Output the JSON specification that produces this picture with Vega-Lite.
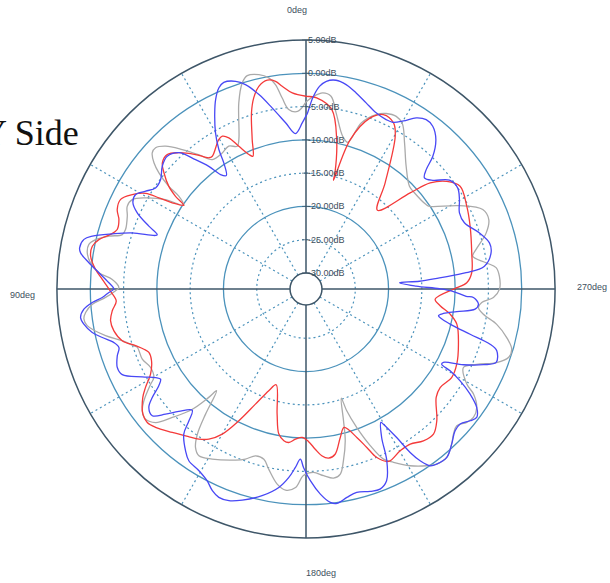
{
"$schema":"https://vega.github.io/schema/vega-lite/v6.json",
"width":498,"height":498,
"autosize":{"type":"none"},
"padding":{"left":57,"top":40,"right":55,"bottom":45},
"background":"white",
"title":{"text":"Y Side","anchor":"start","frame":"group","orient":"top","font":"Liberation Serif","fontSize":36,"fontWeight":"normal","color":"#111111","baseline":"alphabetic","offset":0,"dx":-76,"dy":175},
"config":{"view":{"stroke":null}},
"datasets":{
"curves":[
{"s":"grey","a":0,"d":-4.3},{"s":"grey","a":2.7,"d":-5.7},{"s":"grey","a":5.5,"d":-5.3},{"s":"grey","a":7.1,"d":-3.5},{"s":"grey","a":8.5,"d":-1.35},{"s":"grey","a":10,"d":-0.2},{"s":"grey","a":12.4,"d":0.57},{"s":"grey","a":15.4,"d":0.84},{"s":"grey","a":17.2,"d":0},{"s":"grey","a":19.85,"d":-2.67},{"s":"grey","a":24.2,"d":-7.8},{"s":"grey","a":25.7,"d":-8.6},{"s":"grey","a":28.4,"d":-8.0},{"s":"grey","a":31.6,"d":-8.4},{"s":"grey","a":35.9,"d":-8.4},{"s":"grey","a":38.6,"d":-6.6},{"s":"grey","a":41.6,"d":-4.4},{"s":"grey","a":44.5,"d":-2.33},{"s":"grey","a":46.8,"d":-1.41},{"s":"grey","a":48.5,"d":-1.56},{"s":"grey","a":50.3,"d":-2.72},{"s":"grey","a":51.7,"d":-4.25},{"s":"grey","a":53.2,"d":-6.67},{"s":"grey","a":53.9,"d":-8.75},{"s":"grey","a":55.6,"d":-10.15},{"s":"grey","a":57.5,"d":-7.4},{"s":"grey","a":60.4,"d":-4.7},{"s":"grey","a":62.8,"d":-3.05},{"s":"grey","a":65.2,"d":-2.82},{"s":"grey","a":67.8,"d":-3.41},{"s":"grey","a":71.75,"d":-3.86},{"s":"grey","a":73.5,"d":-3.62},{"s":"grey","a":75,"d":-1.76},{"s":"grey","a":76.8,"d":0.06},{"s":"grey","a":78.4,"d":0.89},{"s":"grey","a":80.6,"d":0.9},{"s":"grey","a":83.1,"d":0.2},{"s":"grey","a":85.5,"d":-1.2},{"s":"grey","a":87.2,"d":-3.27},{"s":"grey","a":89.6,"d":-4.29},{"s":"grey","a":90.5,"d":-3.8},{"s":"grey","a":92.4,"d":-2.27},{"s":"grey","a":94.1,"d":-0.23},{"s":"grey","a":96.1,"d":0.89},{"s":"grey","a":97.7,"d":1.26},{"s":"grey","a":99.5,"d":0.92},{"s":"grey","a":103.1,"d":-1.49},{"s":"grey","a":105.7,"d":-3.72},{"s":"grey","a":108.3,"d":-5.18},{"s":"grey","a":109.1,"d":-5.59},{"s":"grey","a":113.2,"d":-5.65},{"s":"grey","a":116.8,"d":-6.25},{"s":"grey","a":120.2,"d":-5.96},{"s":"grey","a":121.5,"d":-5.03},{"s":"grey","a":124.6,"d":-2.82},{"s":"grey","a":126.6,"d":-1.76},{"s":"grey","a":129.05,"d":-1.37},{"s":"grey","a":131.6,"d":-2.19},{"s":"grey","a":133.85,"d":-4.55},{"s":"grey","a":136.6,"d":-7.55},{"s":"grey","a":138.1,"d":-10.53},{"s":"grey","a":138.7,"d":-12.06},{"s":"grey","a":141.25,"d":-8.3},{"s":"grey","a":143.2,"d":-5.17},{"s":"grey","a":145.1,"d":-3.39},{"s":"grey","a":147.3,"d":-2.63},{"s":"grey","a":151.1,"d":-3.23},{"s":"grey","a":157.6,"d":-4.61},{"s":"grey","a":160.4,"d":-5.29},{"s":"grey","a":163.2,"d":-6.23},{"s":"grey","a":166.1,"d":-6.07},{"s":"grey","a":168.3,"d":-4.77},{"s":"grey","a":171.6,"d":-2.78},{"s":"grey","a":174.2,"d":-2.04},{"s":"grey","a":177,"d":-2.55},{"s":"grey","a":179.2,"d":-4.4},{"s":"grey","a":182.3,"d":-4.82},{"s":"grey","a":185.4,"d":-4.23},{"s":"grey","a":188.3,"d":-3.69},{"s":"grey","a":190.5,"d":-4.13},{"s":"grey","a":192.3,"d":-6.01},{"s":"grey","a":194.5,"d":-8.86},{"s":"grey","a":195.9,"d":-11.83},{"s":"grey","a":197.9,"d":-15.18},{"s":"grey","a":198.5,"d":-13.11},{"s":"grey","a":200.1,"d":-10.26},{"s":"grey","a":202.3,"d":-6.97},{"s":"grey","a":204.5,"d":-4.32},{"s":"grey","a":206.8,"d":-3.23},{"s":"grey","a":210.5,"d":-1.59},{"s":"grey","a":214.3,"d":-0.26},{"s":"grey","a":216.75,"d":0.42},{"s":"grey","a":219.9,"d":0.57},{"s":"grey","a":223.2,"d":-0.44},{"s":"grey","a":225.45,"d":-1.32},{"s":"grey","a":227.8,"d":-1.83},{"s":"grey","a":230.3,"d":-1.02},{"s":"grey","a":232.5,"d":-0.7},{"s":"grey","a":235.25,"d":-1.19},{"s":"grey","a":237.9,"d":-2.7},{"s":"grey","a":239.4,"d":-4.34},{"s":"grey","a":243.5,"d":-5.98},{"s":"grey","a":246.2,"d":-4.38},{"s":"grey","a":248.9,"d":-1.7},{"s":"grey","a":251.3,"d":-0.3},{"s":"grey","a":253.7,"d":-0.21},{"s":"grey","a":256.4,"d":-1.38},{"s":"grey","a":259.5,"d":-3.27},{"s":"grey","a":261.9,"d":-5.48},{"s":"grey","a":263.9,"d":-6.35},{"s":"grey","a":265.6,"d":-5.93},{"s":"grey","a":267.4,"d":-4.22},{"s":"grey","a":269.9,"d":-3.35},{"s":"grey","a":273.8,"d":-3.29},{"s":"grey","a":276.4,"d":-3.67},{"s":"grey","a":278.3,"d":-5.06},{"s":"grey","a":281.1,"d":-6.88},{"s":"grey","a":283.1,"d":-6.17},{"s":"grey","a":287.3,"d":-4.05},{"s":"grey","a":290.8,"d":-3.03},{"s":"grey","a":294.2,"d":-3.29},{"s":"grey","a":298.5,"d":-6.17},{"s":"grey","a":303.8,"d":-10.08},{"s":"grey","a":305.1,"d":-10.35},{"s":"grey","a":311.6,"d":-10.63},{"s":"grey","a":314.8,"d":-10.5},{"s":"grey","a":320.8,"d":-8.6},{"s":"grey","a":326,"d":-5.93},{"s":"grey","a":329.8,"d":-3.65},{"s":"grey","a":332.4,"d":-3.14},{"s":"grey","a":335.45,"d":-3.42},{"s":"grey","a":338.1,"d":-4.16},{"s":"grey","a":341.6,"d":-6.11},{"s":"grey","a":344.1,"d":-9.49},{"s":"grey","a":346.5,"d":-8.8},{"s":"grey","a":350.3,"d":-5.56},{"s":"grey","a":352.6,"d":-3.21},{"s":"grey","a":355.1,"d":-2.84},{"s":"grey","a":358,"d":-3.53},{"s":"grey","a":360,"d":-4.3},
{"s":"red","a":0,"d":-3.45},{"s":"red","a":4,"d":-2.87},{"s":"red","a":6.7,"d":-1.74},{"s":"red","a":8.35,"d":-0.87},{"s":"red","a":10.5,"d":-0.51},{"s":"red","a":13.1,"d":-1.14},{"s":"red","a":15.3,"d":-2.64},{"s":"red","a":17.2,"d":-4.71},{"s":"red","a":19.8,"d":-8.54},{"s":"red","a":21.8,"d":-10.92},{"s":"red","a":23,"d":-10.45},{"s":"red","a":25.2,"d":-8.71},{"s":"red","a":27.05,"d":-6.91},{"s":"red","a":28.7,"d":-6.23},{"s":"red","a":30.3,"d":-6.41},{"s":"red","a":35.2,"d":-7.99},{"s":"red","a":36.5,"d":-7.88},{"s":"red","a":39.4,"d":-6.26},{"s":"red","a":43,"d":-4.41},{"s":"red","a":45.9,"d":-3.38},{"s":"red","a":48.7,"d":-3.68},{"s":"red","a":50.7,"d":-4.83},{"s":"red","a":53.2,"d":-6.67},{"s":"red","a":54.6,"d":-8.36},{"s":"red","a":55.6,"d":-10.15},{"s":"red","a":57.2,"d":-8.5},{"s":"red","a":58.2,"d":-6.4},{"s":"red","a":59.2,"d":-4.35},{"s":"red","a":61.5,"d":-2.7},{"s":"red","a":64.2,"d":-1.47},{"s":"red","a":67.2,"d":-1.64},{"s":"red","a":69.6,"d":-2.42},{"s":"red","a":72.5,"d":-2.67},{"s":"red","a":74.4,"d":-1.92},{"s":"red","a":76.6,"d":-0.42},{"s":"red","a":78.7,"d":0.33},{"s":"red","a":81.3,"d":0.33},{"s":"red","a":84.7,"d":-0.66},{"s":"red","a":87.3,"d":-1.77},{"s":"red","a":90.7,"d":-3.05},{"s":"red","a":93.6,"d":-3.84},{"s":"red","a":96.4,"d":-3.12},{"s":"red","a":99.2,"d":-2.66},{"s":"red","a":102.3,"d":-2.87},{"s":"red","a":105.7,"d":-3.72},{"s":"red","a":108.4,"d":-5.42},{"s":"red","a":110.4,"d":-6.43},{"s":"red","a":112,"d":-6.95},{"s":"red","a":114.9,"d":-6.82},{"s":"red","a":118.7,"d":-5.78},{"s":"red","a":121.5,"d":-4.13},{"s":"red","a":123.6,"d":-2.97},{"s":"red","a":127.5,"d":-1.52},{"s":"red","a":130.05,"d":-1.25},{"s":"red","a":132.6,"d":-1.7},{"s":"red","a":137,"d":-2.94},{"s":"red","a":141.6,"d":-4.08},{"s":"red","a":144.5,"d":-4.7},{"s":"red","a":147.1,"d":-5.54},{"s":"red","a":150,"d":-7.24},{"s":"red","a":153,"d":-10.2},{"s":"red","a":156.3,"d":-13.51},{"s":"red","a":159.9,"d":-16.13},{"s":"red","a":162.7,"d":-17.34},{"s":"red","a":167,"d":-13.11},{"s":"red","a":169.4,"d":-10.23},{"s":"red","a":171.7,"d":-9.37},{"s":"red","a":173.6,"d":-9.2},{"s":"red","a":176,"d":-9.79},{"s":"red","a":178.5,"d":-10.11},{"s":"red","a":180.9,"d":-9.5},{"s":"red","a":183.3,"d":-8.3},{"s":"red","a":185.4,"d":-7.25},{"s":"red","a":187.6,"d":-6.77},{"s":"red","a":190,"d":-7.2},{"s":"red","a":193,"d":-9.52},{"s":"red","a":195.4,"d":-10.83},{"s":"red","a":198.9,"d":-8.84},{"s":"red","a":201,"d":-6.91},{"s":"red","a":202.8,"d":-4.95},{"s":"red","a":205.6,"d":-3.69},{"s":"red","a":210.2,"d":-4.29},{"s":"red","a":213.9,"d":-4.33},{"s":"red","a":217.7,"d":-3.57},{"s":"red","a":221.3,"d":-3.39},{"s":"red","a":224.8,"d":-4.52},{"s":"red","a":230.2,"d":-6.95},{"s":"red","a":233.7,"d":-7.4},{"s":"red","a":238.7,"d":-6.8},{"s":"red","a":243.5,"d":-7.1},{"s":"red","a":250.1,"d":-8.05},{"s":"red","a":256.9,"d":-9.14},{"s":"red","a":260.1,"d":-10.42},{"s":"red","a":262.9,"d":-12.1},{"s":"red","a":265.5,"d":-12.94},{"s":"red","a":269.9,"d":-10.26},{"s":"red","a":270.5,"d":-9.76},{"s":"red","a":272.2,"d":-8.24},{"s":"red","a":275.6,"d":-7.39},{"s":"red","a":282.3,"d":-6.92},{"s":"red","a":290.9,"d":-6.01},{"s":"red","a":297.2,"d":-5.24},{"s":"red","a":303.7,"d":-4.58},{"s":"red","a":307.4,"d":-5.78},{"s":"red","a":310.5,"d":-7.87},{"s":"red","a":312.7,"d":-11.11},{"s":"red","a":317.8,"d":-16.43},{"s":"red","a":323.3,"d":-12.51},{"s":"red","a":329.7,"d":-5.84},{"s":"red","a":332.2,"d":-4.2},{"s":"red","a":336.1,"d":-3.74},{"s":"red","a":339.4,"d":-4.95},{"s":"red","a":343.5,"d":-9.0},{"s":"red","a":345.8,"d":-15.56},{"s":"red","a":346,"d":-14.41},{"s":"red","a":348.4,"d":-9.49},{"s":"red","a":351.8,"d":-5.18},{"s":"red","a":356.8,"d":-3.65},{"s":"red","a":360,"d":-3.45},
{"s":"blue","a":0,"d":-6.4},{"s":"blue","a":1.3,"d":-7.45},{"s":"blue","a":3.9,"d":-9.0},{"s":"blue","a":7,"d":-7.25},{"s":"blue","a":10.6,"d":-4.73},{"s":"blue","a":13.6,"d":-2.36},{"s":"blue","a":16.5,"d":-0.38},{"s":"blue","a":18.7,"d":0.54},{"s":"blue","a":21.7,"d":1.0},{"s":"blue","a":23.4,"d":0.53},{"s":"blue","a":25.5,"d":-0.87},{"s":"blue","a":27.4,"d":-2.61},{"s":"blue","a":30.1,"d":-5.3},{"s":"blue","a":32,"d":-7.7},{"s":"blue","a":33.1,"d":-9.79},{"s":"blue","a":35.1,"d":-11.58},{"s":"blue","a":36.75,"d":-10.95},{"s":"blue","a":38.4,"d":-8.89},{"s":"blue","a":40.5,"d":-6.85},{"s":"blue","a":43,"d":-4.41},{"s":"blue","a":46.3,"d":-3.56},{"s":"blue","a":49.5,"d":-4.01},{"s":"blue","a":53,"d":-5.06},{"s":"blue","a":56.1,"d":-5.17},{"s":"blue","a":58.6,"d":-4.19},{"s":"blue","a":61,"d":-3.14},{"s":"blue","a":63.5,"d":-3.35},{"s":"blue","a":65.7,"d":-4.59},{"s":"blue","a":68.2,"d":-6.98},{"s":"blue","a":69.9,"d":-8.6},{"s":"blue","a":70.4,"d":-8.42},{"s":"blue","a":72.1,"d":-4.97},{"s":"blue","a":74.1,"d":-2.15},{"s":"blue","a":76.1,"d":0.66},{"s":"blue","a":77.4,"d":1.77},{"s":"blue","a":79.7,"d":2.16},{"s":"blue","a":80.9,"d":1.89},{"s":"blue","a":83.1,"d":0.45},{"s":"blue","a":85.5,"d":-1.2},{"s":"blue","a":88.2,"d":-2.78},{"s":"blue","a":90,"d":-3.54},{"s":"blue","a":91,"d":-2.79},{"s":"blue","a":92.4,"d":-1.77},{"s":"blue","a":93.6,"d":-0.24},{"s":"blue","a":95.2,"d":1.1},{"s":"blue","a":97.2,"d":1.73},{"s":"blue","a":99,"d":1.38},{"s":"blue","a":101.5,"d":0.36},{"s":"blue","a":103.4,"d":-0.95},{"s":"blue","a":105.6,"d":-2.45},{"s":"blue","a":107.4,"d":-2.96},{"s":"blue","a":109.5,"d":-2.33},{"s":"blue","a":112.6,"d":-1.7},{"s":"blue","a":115,"d":-1.95},{"s":"blue","a":118.2,"d":-4.5},{"s":"blue","a":120.5,"d":-6.19},{"s":"blue","a":121.8,"d":-6.7},{"s":"blue","a":123.3,"d":-5.95},{"s":"blue","a":125.2,"d":-4.14},{"s":"blue","a":127,"d":-2.84},{"s":"blue","a":129.5,"d":-2.48},{"s":"blue","a":131.7,"d":-4.14},{"s":"blue","a":133.9,"d":-5.89},{"s":"blue","a":136.8,"d":-7.43},{"s":"blue","a":138.4,"d":-5.92},{"s":"blue","a":139.9,"d":-3.9},{"s":"blue","a":143.3,"d":-2.12},{"s":"blue","a":145.7,"d":-1.17},{"s":"blue","a":149.5,"d":-0.72},{"s":"blue","a":152.7,"d":0.0},{"s":"blue","a":155.1,"d":1.0},{"s":"blue","a":157.3,"d":1.53},{"s":"blue","a":160,"d":1.44},{"s":"blue","a":163.2,"d":0.72},{"s":"blue","a":168,"d":-0.66},{"s":"blue","a":172.2,"d":-2.31},{"s":"blue","a":174.8,"d":-3.98},{"s":"blue","a":176.6,"d":-5.56},{"s":"blue","a":178.1,"d":-6.83},{"s":"blue","a":179.2,"d":-5.6},{"s":"blue","a":181.3,"d":-3.6},{"s":"blue","a":184,"d":-1.52},{"s":"blue","a":186.5,"d":-0.14},{"s":"blue","a":188.2,"d":0.14},{"s":"blue","a":191.1,"d":-0.5},{"s":"blue","a":194,"d":-0.92},{"s":"blue","a":197.6,"d":-0.51},{"s":"blue","a":200.3,"d":-0.35},{"s":"blue","a":202.8,"d":-1.16},{"s":"blue","a":205.2,"d":-3.89},{"s":"blue","a":207,"d":-7.37},{"s":"blue","a":209.3,"d":-9.43},{"s":"blue","a":209.8,"d":-9.01},{"s":"blue","a":211.4,"d":-6.26},{"s":"blue","a":212.5,"d":-3.29},{"s":"blue","a":213.6,"d":-1.43},{"s":"blue","a":215.1,"d":0.05},{"s":"blue","a":216.7,"d":0.42},{"s":"blue","a":219.9,"d":0.57},{"s":"blue","a":223.2,"d":-0.44},{"s":"blue","a":226.45,"d":-1.5},{"s":"blue","a":228.8,"d":-1.61},{"s":"blue","a":231.25,"d":-0.78},{"s":"blue","a":233.05,"d":-0.32},{"s":"blue","a":235.25,"d":-1.19},{"s":"blue","a":237.35,"d":-3.12},{"s":"blue","a":239.2,"d":-5.45},{"s":"blue","a":240.4,"d":-7.51},{"s":"blue","a":241,"d":-9.1},{"s":"blue","a":241.9,"d":-9.0},{"s":"blue","a":244.3,"d":-6.16},{"s":"blue","a":246.9,"d":-3.42},{"s":"blue","a":248.9,"d":-1.79},{"s":"blue","a":252.05,"d":-2.28},{"s":"blue","a":253.3,"d":-3.53},{"s":"blue","a":254.6,"d":-6.83},{"s":"blue","a":256.3,"d":-10.12},{"s":"blue","a":258.6,"d":-12.1},{"s":"blue","a":259.9,"d":-11.43},{"s":"blue","a":261.5,"d":-9.5},{"s":"blue","a":263.2,"d":-6.82},{"s":"blue","a":265,"d":-6.4},{"s":"blue","a":267.1,"d":-7.22},{"s":"blue","a":267.4,"d":-8.32},{"s":"blue","a":269.1,"d":-10.36},{"s":"blue","a":270.1,"d":-12.36},{"s":"blue","a":271.5,"d":-15.86},{"s":"blue","a":273.8,"d":-18.33},{"s":"blue","a":273.9,"d":-15.32},{"s":"blue","a":274.8,"d":-12.28},{"s":"blue","a":275.8,"d":-8.23},{"s":"blue","a":277.3,"d":-5.38},{"s":"blue","a":281.1,"d":-4.07},{"s":"blue","a":284.1,"d":-3.99},{"s":"blue","a":287.9,"d":-5.02},{"s":"blue","a":292.7,"d":-6.61},{"s":"blue","a":296.4,"d":-6.67},{"s":"blue","a":300.25,"d":-5.72},{"s":"blue","a":303.7,"d":-5.02},{"s":"blue","a":307.2,"d":-5.36},{"s":"blue","a":310.6,"d":-7.31},{"s":"blue","a":313.2,"d":-8.0},{"s":"blue","a":314.8,"d":-6.95},{"s":"blue","a":316.3,"d":-4.83},{"s":"blue","a":319.05,"d":-2.64},{"s":"blue","a":322.1,"d":-1.41},{"s":"blue","a":324.65,"d":-1.2},{"s":"blue","a":327.2,"d":-1.83},{"s":"blue","a":329.9,"d":-3.23},{"s":"blue","a":332.5,"d":-4.17},{"s":"blue","a":334.7,"d":-4.25},{"s":"blue","a":338.3,"d":-3.92},{"s":"blue","a":342.1,"d":-3.02},{"s":"blue","a":345.65,"d":-2.0},{"s":"blue","a":348.9,"d":-1.11},{"s":"blue","a":351.8,"d":-0.72},{"s":"blue","a":354.4,"d":-1.05},{"s":"blue","a":356.2,"d":-1.89},{"s":"blue","a":358,"d":-3.68},{"s":"blue","a":359.5,"d":-5.95},{"s":"blue","a":360,"d":-6.4}
]},
"layer":[
{"data":{"values":[{"g":0},{"g":-10},{"g":-20}]},
 "mark":{"type":"arc","theta":0,"theta2":6.2832,"filled":false,"stroke":"#4b92bb","strokeWidth":1.3},
 "encoding":{"radius":{"field":"g","type":"quantitative","stack":null,"scale":{"type":"linear","domain":[-32.4,5],"range":[0,249],"zero":false,"nice":false},"legend":null},"radius2":{"datum":-32.4}}},
{"data":{"values":[{"g":-5},{"g":-15},{"g":-25}]},
 "mark":{"type":"arc","theta":0,"theta2":6.2832,"filled":false,"stroke":"#4b92bb","strokeWidth":1.2,"strokeDash":[2,3]},
 "encoding":{"radius":{"field":"g","type":"quantitative","stack":null,"scale":{"type":"linear","domain":[-32.4,5],"range":[0,249],"zero":false,"nice":false},"legend":null},"radius2":{"datum":-32.4}}},
{"data":{"values":[{"g":5}]},
 "mark":{"type":"arc","theta":0,"theta2":6.2832,"filled":false,"stroke":"#3e5668","strokeWidth":1.5},
 "encoding":{"radius":{"field":"g","type":"quantitative","stack":null,"scale":{"type":"linear","domain":[-32.4,5],"range":[0,249],"zero":false,"nice":false},"legend":null},"radius2":{"datum":-32.4}}},
{"data":{"values":[{"a":30},{"a":60},{"a":120},{"a":150},{"a":210},{"a":240},{"a":300},{"a":330}]},
 "transform":[{"calculate":"-2.4*sin(datum.a*PI/180)","as":"x1"},{"calculate":"2.4*cos(datum.a*PI/180)","as":"y1"},{"calculate":"-37.4*sin(datum.a*PI/180)","as":"x2"},{"calculate":"37.4*cos(datum.a*PI/180)","as":"y2"}],
 "mark":{"type":"rule","stroke":"#4b92bb","strokeWidth":1.2,"strokeDash":[2,3]},
 "encoding":{"x":{"field":"x1","type":"quantitative","scale":{"domain":[-37.4,37.4],"nice":false,"zero":false},"axis":null},"y":{"field":"y1","type":"quantitative","scale":{"domain":[-37.4,37.4],"nice":false,"zero":false},"axis":null},"x2":{"field":"x2"},"y2":{"field":"y2"}}},
{"data":{"values":[{"a":0},{"a":90},{"a":180},{"a":270}]},
 "transform":[{"calculate":"-2.4*sin(datum.a*PI/180)","as":"x1"},{"calculate":"2.4*cos(datum.a*PI/180)","as":"y1"},{"calculate":"-37.4*sin(datum.a*PI/180)","as":"x2"},{"calculate":"37.4*cos(datum.a*PI/180)","as":"y2"}],
 "mark":{"type":"rule","stroke":"#3e5668","strokeWidth":1.5},
 "encoding":{"x":{"field":"x1","type":"quantitative"},"y":{"field":"y1","type":"quantitative"},"x2":{"field":"x2"},"y2":{"field":"y2"}}},
{"data":{"name":"curves"},
 "transform":[{"calculate":"-(datum.d+32.4)*sin(datum.a*PI/180)","as":"x"},{"calculate":"(datum.d+32.4)*cos(datum.a*PI/180)","as":"y"}],
 "mark":{"type":"line","strokeWidth":1.3,"interpolate":"catmull-rom"},
 "encoding":{"x":{"field":"x","type":"quantitative"},"y":{"field":"y","type":"quantitative"},
  "color":{"field":"s","type":"nominal","scale":{"domain":["grey","red","blue"],"range":["#aaaaaa","#f43a3a","#4848f5"]},"legend":null},
  "order":{"field":"a","type":"quantitative"}}},
{"data":{"values":[{"g":-30}]},
 "mark":{"type":"arc","theta":0,"theta2":6.2832,"fill":"white","stroke":"#3e5668","strokeWidth":1.5},
 "encoding":{"radius":{"field":"g","type":"quantitative","stack":null,"scale":{"type":"linear","domain":[-32.4,5],"range":[0,249],"zero":false,"nice":false},"legend":null},"radius2":{"datum":-32.4}}},
{"data":{"values":[{"d":5,"t":"5.00dB"},{"d":0,"t":"0.00dB"},{"d":-5,"t":"-5.00dB"},{"d":-10,"t":"-10.00dB"},{"d":-15,"t":"-15.00dB"},{"d":-20,"t":"-20.00dB"},{"d":-25,"t":"-25.00dB"},{"d":-30,"t":"-30.00dB"}]},
 "transform":[{"calculate":"datum.d+32.4","as":"ry"}],
 "layer":[
  {"mark":{"type":"tick","orient":"horizontal","size":8,"thickness":1,"color":"#3e5668"},
   "encoding":{"x":{"datum":0,"type":"quantitative"},"y":{"field":"ry","type":"quantitative"}}},
  {"mark":{"type":"text","align":"left","baseline":"middle","dx":2,"font":"Liberation Sans","fontSize":9,"color":"#3e4f5d"},
   "encoding":{"x":{"datum":0,"type":"quantitative"},"y":{"field":"ry","type":"quantitative"},"text":{"field":"t"}}}
 ]},
{"data":{"values":[{"a":0,"t":"0deg"}]},
 "transform":[{"calculate":"-41.45*sin(datum.a*PI/180)","as":"lx"},{"calculate":"41.45*cos(datum.a*PI/180)","as":"ly"}],
 "mark":{"type":"text","align":"right","baseline":"middle","dx":1,"dy":-3,"font":"Liberation Sans","fontSize":9,"color":"#3e4f5d"},
 "encoding":{"x":{"field":"lx","type":"quantitative"},"y":{"field":"ly","type":"quantitative"},"text":{"field":"t"}}},
{"data":{"values":[{"a":90,"t":"90deg"}]},
 "transform":[{"calculate":"-41.45*sin(datum.a*PI/180)","as":"lx"},{"calculate":"41.45*cos(datum.a*PI/180)","as":"ly"}],
 "mark":{"type":"text","align":"right","baseline":"middle","dx":5,"dy":6,"font":"Liberation Sans","fontSize":9,"color":"#3e4f5d"},
 "encoding":{"x":{"field":"lx","type":"quantitative"},"y":{"field":"ly","type":"quantitative"},"text":{"field":"t"}}},
{"data":{"values":[{"a":180,"t":"180deg"}]},
 "transform":[{"calculate":"-41.45*sin(datum.a*PI/180)","as":"lx"},{"calculate":"41.45*cos(datum.a*PI/180)","as":"ly"}],
 "mark":{"type":"text","align":"left","baseline":"middle","dx":0,"dy":8,"font":"Liberation Sans","fontSize":9,"color":"#3e4f5d"},
 "encoding":{"x":{"field":"lx","type":"quantitative"},"y":{"field":"ly","type":"quantitative"},"text":{"field":"t"}}},
{"data":{"values":[{"a":270,"t":"270deg"}]},
 "transform":[{"calculate":"-41.45*sin(datum.a*PI/180)","as":"lx"},{"calculate":"41.45*cos(datum.a*PI/180)","as":"ly"}],
 "mark":{"type":"text","align":"left","baseline":"middle","dx":-5,"dy":-2,"font":"Liberation Sans","fontSize":9,"color":"#3e4f5d"},
 "encoding":{"x":{"field":"lx","type":"quantitative"},"y":{"field":"ly","type":"quantitative"},"text":{"field":"t"}}}
]
}
